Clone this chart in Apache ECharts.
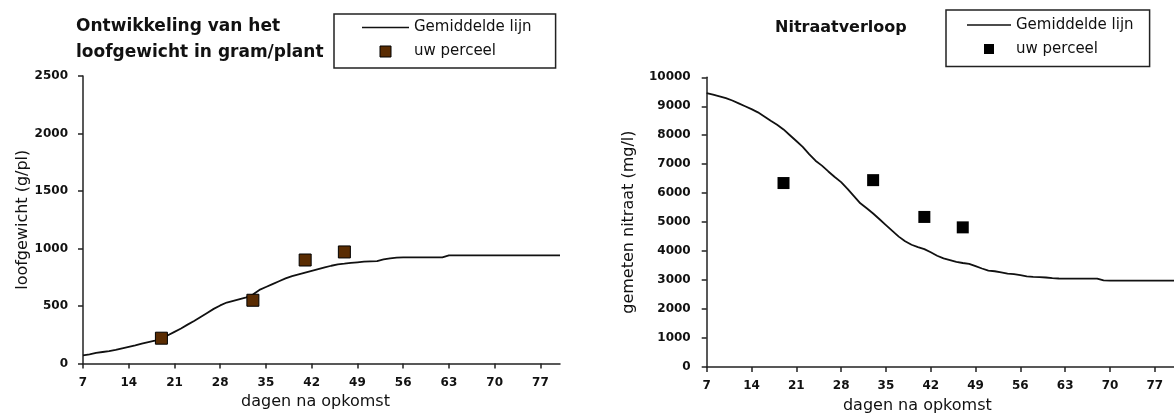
<!DOCTYPE html>
<html>
<head>
<meta charset="utf-8">
<script src="https://cdn.jsdelivr.net/npm/echarts@6/dist/echarts.min.js"></script>
<style>
html,body{margin:0;padding:0;background:#fff;}
#c{width:1174px;height:419px;}
</style>
</head>
<body>
<div id="c"></div>
<script>
// ---- data ----
const days = [7,8,9,10,11,12,13,14,15,16,17,18,19,20,21,22,23,24,25,26,27,28,29,30,31,32,33,34,35,36,37,38,39,40,41,42,43,44,45,46,47,48,49,50,51,52,53,54,55,56,57,58,59,60,61,62,63,64,65,66,67,68,69,70,71,72,73,74,75,76,77,78,79,80];
const loofGemiddeld = [70,80,92,100,108,118,132,145,158,172,185,198,215,
  245,275,305,338,370,405,440,475,505,530,
  545,560,575,600,640,665,690,715,740,760,
  775,790,805,820,835,850,862,868,875,880,
  885,888,890,905,915,920,922,922,922,922,
  922,922,922,
  940,940,940,940,940,940,940,940,940,940,940,940,940,940,940,940,940,940];
const nitraatGemiddeld = [9450,9400,9340,9280,9200,9100,9000,8900,8790,8650,8500,8360,8200,
  8000,7800,7600,7350,7120,6950,6750,6560,6380,6150,
  5900,5650,5480,5300,5100,4900,4700,4500,4340,4220,
  4140,4070,3960,3840,3750,3690,3630,3590,3560,3480,
  3400,3330,3305,3270,3225,3205,3170,3130,3110,3100,
  3090,3070,3055,3050,3050,3050,3050,3050,3050,2990,
  2980,2980,2980,2980,2980,2980,2980,2980,2980,2980,2980];
const perceelDagen = [19,33,41,47];
const loofPerceel = [220,550,900,970];
const nitraatPerceel = [6350,6450,5180,4820];
const xTickDays = [7,14,21,28,35,42,49,56,63,70,77];

// ---- chart ----
const FONT = "'DejaVu Sans', sans-serif";
const chart = echarts.init(document.getElementById('c'), null, {renderer:'canvas'});
const pairs = (xs, ys) => xs.map((x,i)=>[x, ys[i]]);
const axisLine = {show:true, lineStyle:{color:'#222', width:1.5}};
const axisTick = {show:true, inside:false, length:5, lineStyle:{color:'#222', width:1.5}};
const tickLabel = {color:'#111', fontFamily:FONT, fontWeight:'bold', fontSize:12};

function xAxis(gridIndex, padRight, gap){
  return {
    type:'value', gridIndex, min:7, max:80,
    axisLine, axisTick:Object.assign({}, axisTick, {customValues:xTickDays}),
    axisLabel:Object.assign({}, tickLabel, {customValues:xTickDays, margin:13, formatter:v=>String(v)}),
    splitLine:{show:false},
    name:'dagen na opkomst', nameLocation:'middle', nameGap:gap,
    nameTextStyle:{color:'#111', fontFamily:FONT, fontSize:16, padding:[0,padRight,0,0]}
  };
}
function yAxis(gridIndex, max, interval, name, gap, margin){
  return {
    type:'value', gridIndex, min:0, max, interval,
    axisLine, axisTick,
    axisLabel:Object.assign({}, tickLabel, {margin, formatter:v=>String(v)}),
    splitLine:{show:false},
    name, nameLocation:'middle', nameGap:gap,
    nameTextStyle:{color:'#111', fontFamily:FONT, fontSize:16}
  };
}

const option = {
  backgroundColor:'#fff',
  animation:false,
  title:[
    {text:'Ontwikkeling van het\nloofgewicht in gram/plant', left:76, top:14, padding:0,
     textStyle:{fontFamily:FONT, fontWeight:'bold', fontSize:17, lineHeight:26, color:'#111'}},
    {text:'Nitraatverloop', left:775, top:15, padding:0,
     textStyle:{fontFamily:FONT, fontWeight:'bold', fontSize:16, lineHeight:26, color:'#111'}}
  ],
  legend:[
    {orient:'vertical', left:334, top:14, padding:[6,24,9,28], itemGap:9,
     itemWidth:47, itemHeight:11, borderColor:'#222', borderWidth:1.5, selectedMode:false,
     symbolKeepAspect:true,
     textStyle:{fontFamily:FONT, fontSize:15, color:'#111'},
     data:[{name:'Gemiddelde lijn', icon:'path://M0,0H47V1.6H0Z', itemStyle:{color:'#111', borderWidth:0, opacity:1}},
           {name:'uw perceel', icon:'path://M0,0H10V10H0Z', itemStyle:{color:'#5a2c02', borderColor:'#000', borderWidth:1, opacity:1}}]},
    {orient:'vertical', left:946, top:10, padding:[7.5,16,10,21], itemGap:9,
     itemWidth:44, itemHeight:10, borderColor:'#222', borderWidth:1.5, selectedMode:false,
     symbolKeepAspect:true,
     textStyle:{fontFamily:FONT, fontSize:15, color:'#111'},
     data:[{name:'Gemiddelde lijn', icon:'path://M0,0H44V1.6H0Z', itemStyle:{color:'#111', borderWidth:0, opacity:1}},
           {name:'uw perceel', icon:'path://M0,0H10V10H0Z', itemStyle:{color:'#000', borderWidth:0, opacity:1}}]}
  ],
  grid:[
    {left:83, top:76, width:477, height:287.5},
    {left:706.7, top:77.3, width:470, height:292.7}
  ],
  xAxis:[ xAxis(0, 12, 27), xAxis(1, 46, 31) ],
  yAxis:[ yAxis(0, 2500, 500, 'loofgewicht (g/pl)', 50, 15),
          yAxis(1, 10000, 1000, 'gemeten nitraat (mg/l)', 70, 16) ],
  series:[
    {name:'Gemiddelde lijn', type:'line', xAxisIndex:0, yAxisIndex:0, symbol:'none',
     itemStyle:{color:'#111'}, lineStyle:{color:'#111', width:1.8}, data:pairs(days, loofGemiddeld), z:2},
    {name:'uw perceel', type:'scatter', xAxisIndex:0, yAxisIndex:0, symbol:'rect', symbolSize:12,
     itemStyle:{color:'#5a2c02', borderColor:'#000', borderWidth:1, opacity:1}, data:pairs(perceelDagen, loofPerceel), z:3},
    {name:'Gemiddelde lijn', type:'line', xAxisIndex:1, yAxisIndex:1, symbol:'none',
     itemStyle:{color:'#111'}, lineStyle:{color:'#111', width:1.8}, data:pairs(days, nitraatGemiddeld), z:2},
    {name:'uw perceel', type:'scatter', xAxisIndex:1, yAxisIndex:1, symbol:'rect', symbolSize:12,
     itemStyle:{color:'#000', opacity:1}, data:pairs(perceelDagen, nitraatPerceel), z:3}
  ]
};
chart.setOption(option);
</script>
</body>
</html>
